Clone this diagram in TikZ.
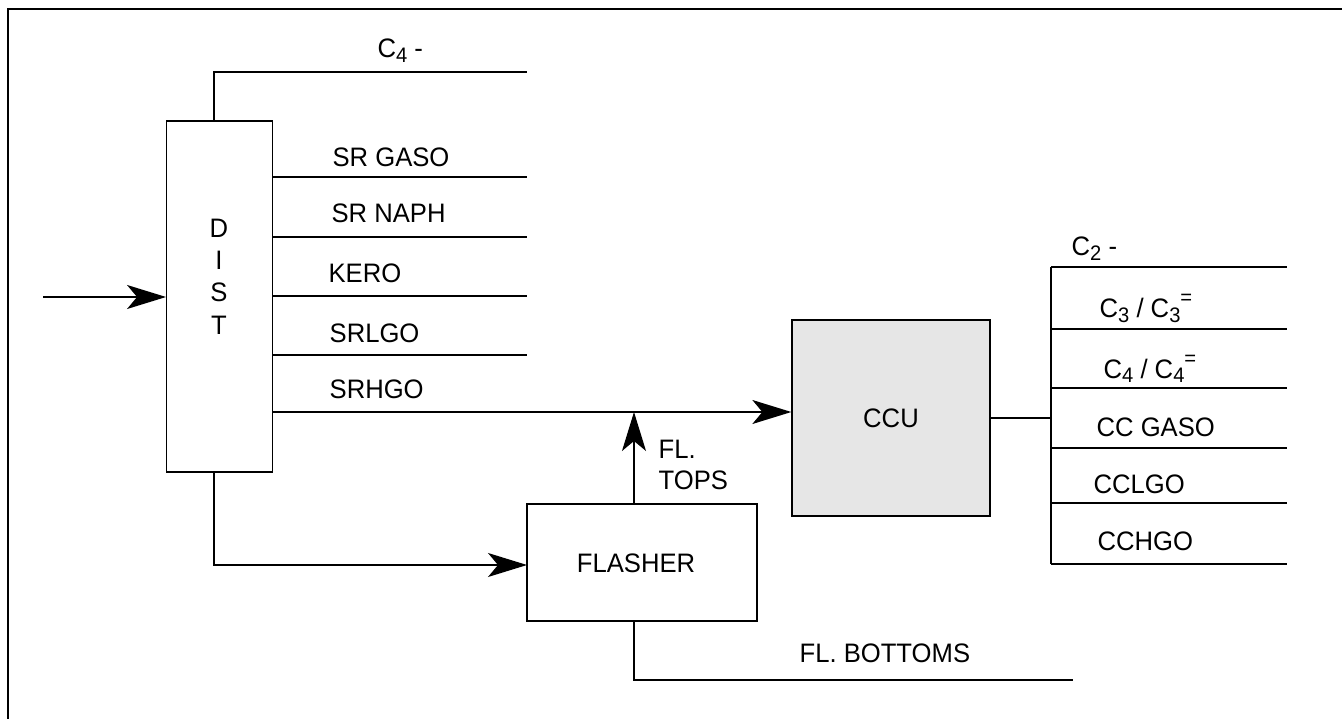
\documentclass[tikz,border=0pt]{standalone}
\usepackage{fontspec}
\setmainfont{Liberation Sans}[FakeStretch=0.96]
\usetikzlibrary{arrows.meta}
\definecolor{ccugray}{RGB}{230,230,230}
\newcommand\lsub[1]{\raisebox{-5pt}{\fontsize{21}{21}\selectfont #1}}
\newcommand\lsup[1]{\raisebox{13pt}{\fontsize{21}{21}\selectfont #1}}
\begin{document}
\begin{tikzpicture}[x=1pt,y=-1pt,line width=1.3pt,
  box/.style={draw,inner sep=0pt,line width=1.3pt},
  lbl/.style={anchor=base west,inner sep=0pt,font=\fontsize{26.7}{30}\selectfont},
  clbl/.style={anchor=base,inner sep=0pt,font=\fontsize{26.7}{30}\selectfont},
  flow/.style={-{Stealth[length=39pt,width=24pt,inset=10pt]}},
  frameline/.style={line width=2.6pt}]
\useasboundingbox (0,0) rectangle (1342,719);
% frame
\coordinate (fbl) at (8,719);
\coordinate (ftl) at (8,9);
\coordinate (ftr) at (1342,9);
\draw[frameline] (fbl) -- (ftl) -- (ftr);

% boxes
\node[box,minimum width=105.6pt,minimum height=351pt] (dist) at (219.5,296.5) {};
\node[box,fill=ccugray,minimum width=198pt,minimum height=196pt] (ccu) at (891,418) {};
\node[box,minimum width=230pt,minimum height=117pt] (flasher) at (642,562.5) {};

% box texts
\node[clbl] (tD) at (219,238) {D};
\node[clbl] (tI) at (219,270) {I};
\node[clbl] (tS) at (219,302) {S};
\node[clbl] (tT) at (219,335) {T};
\node[clbl] (tccu) at (891,428) {CCU};
\node[clbl] (tfl) at (636,572) {FLASHER};

% input
\coordinate (in) at (43,297);
\draw[flow] (in) -- (in -| dist.west);

% C4- overhead
\coordinate (c4a) at (214,121);
\coordinate (c4e) at (527,72);
\draw (c4a) |- (c4e);
\node[lbl] (lc4) at (377,58) {C\lsub{4} -};

% side streams
\foreach \nm/\yy in {gaso/177,naph/237,kero/296,lgo/355}{
  \coordinate (\nm s) at (272,\yy);
  \coordinate (\nm e) at (527,\yy);
  \draw (\nm s) -- (\nm e);
}
\node[lbl] (lgaso) at (332,167) {SR GASO};
\node[lbl] (lnaph) at (331,223) {SR NAPH};
\node[lbl] (lkero) at (328,283) {KERO};
\node[lbl] (llgo) at (329,343) {SRLGO};
\node[lbl] (lhgo) at (329,399) {SRHGO};

% SRHGO to CCU
\coordinate (hgos) at (272,412);
\draw[flow] (hgos) -- (hgos -| ccu.west);

% FL tops
\coordinate (tops) at (634,504);
\coordinate (topsj) at (634,412);
\draw[flow] (tops) -- (topsj);
\node[lbl] (lfl) at (658,458) {FL.};
\node[lbl] (ltops) at (658,489) {TOPS};

% DIST bottoms to flasher
\coordinate (db) at (214,472);
\coordinate (dbe) at (527,565);
\draw[flow] (db) |- (dbe);

% FL bottoms
\coordinate (fb) at (634,621);
\coordinate (fbe) at (1073,680);
\draw (fb) |- (fbe);
\node[lbl] (lfb) at (799,662) {FL. BOTTOMS};

% CCU products
\coordinate (ccuo) at (990,418);
\coordinate (busm) at (1051,418);
\draw (ccuo) -- (busm);
\coordinate (bust) at (1051,267);
\coordinate (busb) at (1051,564);
\draw (bust) -- (busb);
\foreach \nm/\yy in {p1/267,p2/329,p3/388,p4/448,p5/503,p6/564}{
  \coordinate (\nm s) at (1051,\yy);
  \coordinate (\nm e) at (1287,\yy);
  \draw (\nm s) -- (\nm e);
}
\node[lbl] (lc2) at (1071,256) {C\lsub{2} -};
\node[lbl] (lc3) at (1099,318) {C\lsub{3} / C\lsub{3}\lsup{=}};
\node[lbl] (lc4b) at (1103,378) {C\lsub{4} / C\lsub{4}\lsup{=}};
\node[lbl] (lccg) at (1096,436) {CC GASO};
\node[lbl] (lcclgo) at (1093,493) {CCLGO};
\node[lbl] (lcchgo) at (1097,550) {CCHGO};
\end{tikzpicture}
\end{document}
